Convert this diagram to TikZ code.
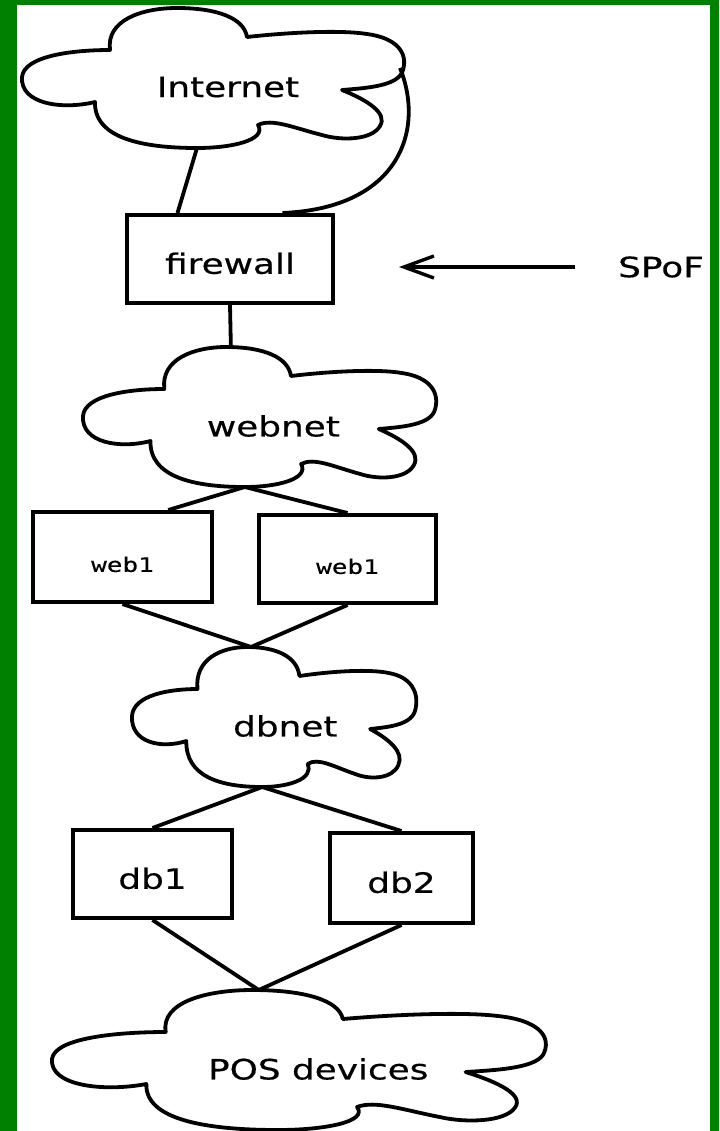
\documentclass[tikz,border=0pt]{standalone}
\usepackage{fontspec}
\newfontfamily\netfont{DejaVu Sans}[FakeStretch=1.28,FakeBold=0.5]
\newfontfamily\boxmono{DejaVu Sans Mono}[FakeStretch=1.3,FakeBold=0.3]
\usetikzlibrary{arrows.meta,calc}
\definecolor{framegreen}{RGB}{0,128,0}
\tikzset{
  pics/netcloud/.style={code={
    \draw[cloudline] (73,94) .. controls (40,102) and (-2,96) .. (0,69)
      .. controls (2,48) and (50,42) .. (88,42)
      .. controls (84,12) and (120,0) .. (155,0)
      .. controls (195,0) and (222,10) .. (225,29)
      .. controls (270,24) and (320,22) .. (345,26)
      .. controls (375,30) and (386,45) .. (381,62)
      .. controls (377,78) and (345,80) .. (320,82)
      .. controls (345,92) and (366,105) .. (358,118)
      .. controls (350,132) and (320,133) .. (300,127)
      .. controls (272,120) and (250,110) .. (236,117)
      .. controls (245,132) and (210,140) .. (175,140)
      .. controls (120,140) and (72,130) .. (73,94) -- cycle;
    \coordinate (-top) at (160,0);
    \coordinate (-bot) at (175,140);
    \coordinate (-east) at (378,60);
    \node[cloudtext] (-txt) at (206,79) {#1};
  }}
}
\begin{document}
\begin{tikzpicture}[x=0.5pt,y=-0.5pt,
    cloudline/.style={line width=1.9pt,line join=round},
    cloudtext/.style={font=\netfont\fontsize{14}{16}\selectfont},
    hostbox/.style={draw,line width=2pt,inner sep=0pt,text height=15pt,
      font=\netfont\fontsize{14}{16}\selectfont},
    webbox/.style={hostbox,font=\boxmono\fontsize{10}{12}\selectfont},
    link/.style={line width=1.9pt},
    spofarrow/.style={line width=1.7pt,-{Straight Barb[length=15pt,width=11pt]}}]
  \useasboundingbox (0,0) rectangle (719,1131);
  \fill[framegreen] (0,0) rectangle (719,1131);
  \fill[white] (17,5) rectangle (710,1131);
  % clouds
  \pic (inet) at (22,8) {netcloud=Internet};
  \pic[xscale=354/383] (webnet) at (83,347) {netcloud=webnet};
  \pic[xscale=285/383] (dbnet) at (132,647) {netcloud=dbnet};
  \pic[xscale=495/383] (pos) at (52,990) {netcloud=POS devices};
  % hosts
  \node[hostbox,minimum width=103pt,minimum height=44pt] (firewall) at (230,259) {firewall};
  \node[webbox,minimum width=89.5pt,minimum height=45pt] (weba) at (122.5,557) {web1};
  \node[webbox,minimum width=88.5pt,minimum height=44pt] (webb) at (347.5,559) {web1};
  \node[hostbox,minimum width=79.5pt,minimum height=44pt] (db1) at (152.5,874) {db1};
  \node[hostbox,minimum width=71.5pt,minimum height=45pt] (db2) at (401.5,878) {db2};
  \node[cloudtext] (spof) at (661,267) {SPoF};
  % links
  \draw[link] (inet-bot) -- ($(firewall.north)!0.5!(firewall.north west)$);
  \draw[link] (inet-east) .. controls +(25,62) and +(117,-5) .. ($(firewall.north)!0.5!(firewall.north east)$);
  \draw[link] (firewall.south) -- (webnet-top);
  \draw[link] (webnet-bot) -- ($(weba.north)!0.5!(weba.north east)$);
  \draw[link] (webnet-bot) -- (webb.north);
  \draw[link] (weba.south) -- (dbnet-top);
  \draw[link] (webb.south) -- (dbnet-top);
  \draw[link] (dbnet-bot) -- (db1.north);
  \draw[link] (dbnet-bot) -- (db2.north);
  \draw[link] (db1.south) -- (pos-top);
  \draw[link] (db2.south) -- (pos-top);
  \draw[spofarrow,shorten <=18pt,shorten >=32pt] (spof.west) -- (spof.west -| firewall.east);
\end{tikzpicture}
\end{document}
